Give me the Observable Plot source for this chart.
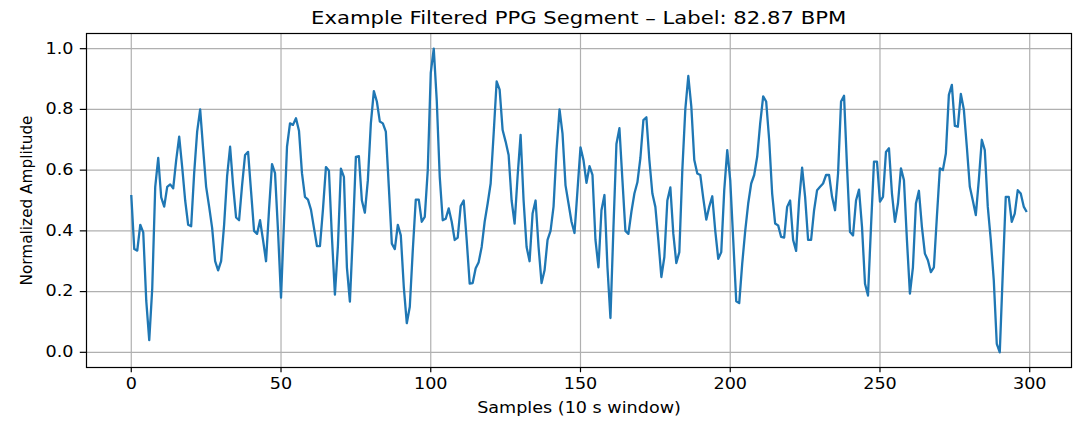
<!DOCTYPE html>
<html>
<head>
<meta charset="utf-8">
<script src="https://cdn.jsdelivr.net/npm/d3@7"></script>
<script src="https://cdn.jsdelivr.net/npm/@observablehq/plot@0.6"></script>
<style>
  body { margin: 0; background: white; font-family: "DejaVu Sans", sans-serif; }
  #title { height: 28px; box-sizing: border-box; padding-top: 9px; padding-left: 86px; padding-right: 9px;
           width: 1080px; text-align: center; font-size: 18.4px; line-height: 18.4px; color: black; white-space: nowrap; }
  #title span { display: inline-block; transform: scaleX(1.15); transform-origin: center; }
</style>
</head>
<body>
<div id="title"><span></span></div>
<div id="chart"></div>
<script>
const title = "Example Filtered PPG Segment \u2013 Label: 82.87 BPM";
const xLabel = "Samples (10 s window)";
const yLabel = "Normalized Amplitude";
const xTicks = [0, 50, 100, 150, 200, 250, 300];
const yTicks = [0.0, 0.2, 0.4, 0.6, 0.8, 1.0];

// Normalized filtered PPG amplitude, one value per sample (300 samples)
const amplitude = [
  0.518, 0.34, 0.335, 0.42, 0.395, 0.17, 0.04, 0.21, 0.545, 0.64,
  0.51, 0.48, 0.545, 0.553, 0.54, 0.633, 0.71, 0.61, 0.50, 0.42,
  0.415, 0.59, 0.727, 0.80, 0.67, 0.545, 0.48, 0.41, 0.30, 0.27,
  0.30, 0.42, 0.58, 0.677, 0.55, 0.444, 0.435, 0.55, 0.65, 0.66,
  0.53, 0.40, 0.39, 0.435, 0.37, 0.30, 0.47, 0.62, 0.59, 0.40,
  0.18, 0.43, 0.677, 0.754, 0.749, 0.771, 0.73, 0.59, 0.512, 0.503,
  0.47, 0.41, 0.35, 0.35, 0.47, 0.61, 0.598, 0.38, 0.19, 0.35,
  0.605, 0.578, 0.28, 0.167, 0.39, 0.644, 0.646, 0.50, 0.46, 0.567,
  0.754, 0.86, 0.826, 0.76, 0.754, 0.727, 0.545, 0.358, 0.34, 0.42,
  0.385, 0.215, 0.096, 0.15, 0.336, 0.503, 0.503, 0.43, 0.446, 0.60,
  0.92, 1.0, 0.83, 0.578, 0.435, 0.44, 0.474, 0.43, 0.37, 0.378,
  0.482, 0.50, 0.37, 0.226, 0.228, 0.277, 0.297, 0.347, 0.43, 0.49,
  0.556, 0.72, 0.892, 0.865, 0.732, 0.694, 0.65, 0.50, 0.424, 0.58,
  0.716, 0.50, 0.347, 0.30, 0.457, 0.50, 0.347, 0.228, 0.27, 0.37,
  0.40, 0.48, 0.666, 0.80, 0.72, 0.55, 0.49, 0.43, 0.393, 0.534,
  0.675, 0.633, 0.558, 0.613, 0.584, 0.37, 0.28, 0.468, 0.518, 0.28,
  0.113, 0.41, 0.686, 0.738, 0.567, 0.40, 0.39, 0.463, 0.523, 0.56,
  0.64, 0.765, 0.774, 0.633, 0.523, 0.479, 0.369, 0.248, 0.314, 0.50,
  0.543, 0.39, 0.294, 0.33, 0.60, 0.80, 0.91, 0.81, 0.633, 0.589,
  0.584, 0.507, 0.437, 0.48, 0.514, 0.40, 0.308, 0.33, 0.534, 0.666,
  0.567, 0.37, 0.168, 0.162, 0.292, 0.40, 0.49, 0.556, 0.584, 0.644,
  0.754, 0.843, 0.826, 0.70, 0.523, 0.424, 0.418, 0.38, 0.378, 0.479,
  0.50, 0.37, 0.334, 0.50, 0.608, 0.512, 0.37, 0.37, 0.468, 0.534,
  0.545, 0.556, 0.584, 0.584, 0.512, 0.468, 0.589, 0.826, 0.845, 0.61,
  0.396, 0.385, 0.50, 0.536, 0.413, 0.226, 0.187, 0.413, 0.628, 0.628,
  0.496, 0.512, 0.66, 0.672, 0.523, 0.43, 0.49, 0.606, 0.567, 0.37,
  0.193, 0.28, 0.49, 0.532, 0.413, 0.325, 0.303, 0.264, 0.28, 0.446,
  0.606, 0.60, 0.655, 0.848, 0.881, 0.746, 0.743, 0.851, 0.80, 0.677,
  0.545, 0.50, 0.452, 0.567, 0.70, 0.666, 0.479, 0.37, 0.237, 0.028,
  0.0, 0.26, 0.512, 0.512, 0.43, 0.457, 0.534, 0.523, 0.48, 0.462
];

const samples = amplitude.map((v, i) => ({sample: i, value: v}));
const n = amplitude.length - 1;
const padX = n * 0.05;

document.querySelector("#title span").textContent = title;

const gridStyle = {stroke: "#b0b0b0", strokeOpacity: 1, strokeWidth: 1.2};

const chart = Plot.plot({
  width: 1080,
  height: 397,
  marginLeft: 86,
  marginRight: 9,
  marginTop: 5,
  marginBottom: 58,
  style: {fontFamily: "DejaVu Sans, sans-serif", fontSize: "15.3px", color: "black", background: "white", overflow: "visible"},
  x: {domain: [-padX, n + padX]},
  y: {domain: [-0.05, 1.05]},
  marks: [
    Plot.gridX(xTicks, gridStyle),
    Plot.gridY(yTicks, gridStyle),
    Plot.line(samples, {x: "sample", y: "value", stroke: "#1f77b4", strokeWidth: 2.3, strokeLinejoin: "round", strokeLinecap: "butt"}),
    Plot.frame({stroke: "black", strokeWidth: 1.2}),
    Plot.axisX(xTicks, {
      tickSize: 5.25, tickPadding: 5.25, strokeWidth: 1.2,
      tickFormat: d => String(d),
      label: xLabel, labelAnchor: "center", labelArrow: "none", labelOffset: 45
    }),
    Plot.axisY(yTicks, {
      tickSize: 6.2, tickPadding: 6.8, strokeWidth: 1.2,
      tickFormat: d3.format(".1f"),
      label: yLabel, labelAnchor: "center", labelArrow: "none", labelOffset: 65.6
    })
  ]
});

document.getElementById("chart").appendChild(chart);

// Widen horizontal text slightly, keeping each label's anchor point fixed
const stretch = 1.15;
for (const t of chart.querySelectorAll("text")) {
  if (t.closest("[aria-label='y-axis label']")) continue;
  const g = document.createElementNS("http://www.w3.org/2000/svg", "g");
  t.parentNode.insertBefore(g, t);
  g.appendChild(t);
  const bb = g.getBBox();
  const anchor = getComputedStyle(t).textAnchor;
  const ax = anchor === "end" ? bb.x + bb.width : anchor === "middle" ? bb.x + bb.width / 2 : bb.x;
  g.setAttribute("transform", `translate(${ax},0) scale(${stretch},1) translate(${-ax},0)`);
}
</script>
</body>
</html>
